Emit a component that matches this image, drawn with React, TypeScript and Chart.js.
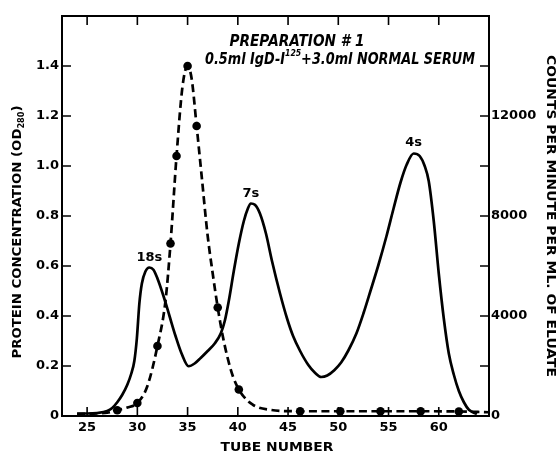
import React, { useEffect, useRef } from "react";
import { Chart, registerables } from "chart.js";

Chart.register(...registerables);

// ---------- data ----------
const proteinTubes = [24, 25, 26, 27, 27.5, 28, 28.5, 29, 29.4, 29.7, 29.95, 30.2, 30.45, 30.8, 31.2, 31.6, 32.0, 32.6, 33.2, 33.8, 34.4, 35.1, 35.7, 36.3, 37.0, 37.7, 38.3, 38.7, 39.1, 39.6, 40.1, 40.6, 41.0, 41.3, 41.7, 42.2, 42.8, 43.4, 44.2, 44.9, 45.5, 46.2, 47.0, 47.7, 48.3, 48.9, 49.6, 50.3, 51.0, 51.8, 52.5, 53.2, 54.0, 54.8, 55.5, 56.2, 56.8, 57.5, 58.1, 58.6, 59.0, 59.5, 60.0, 60.5, 61.0, 61.5, 62.0, 62.5, 63.0, 63.8];
const proteinOD = [0.01, 0.01, 0.012, 0.02, 0.032, 0.055, 0.085, 0.125, 0.17, 0.22, 0.31, 0.45, 0.53, 0.578, 0.594, 0.585, 0.55, 0.48, 0.4, 0.32, 0.25, 0.199, 0.21, 0.232, 0.26, 0.29, 0.33, 0.38, 0.46, 0.58, 0.69, 0.78, 0.83, 0.85, 0.845, 0.81, 0.73, 0.62, 0.49, 0.39, 0.32, 0.26, 0.205, 0.172, 0.156, 0.162, 0.183, 0.215, 0.262, 0.33, 0.41, 0.5, 0.605, 0.72, 0.83, 0.935, 1.005, 1.05, 1.04, 1.0, 0.94, 0.78, 0.57, 0.39, 0.25, 0.165, 0.1, 0.055, 0.025, 0.008];

const countTubes = [24, 26, 27, 28, 29, 30, 31, 32, 32.8, 33.3, 33.9, 34.5, 35, 35.4, 35.9, 36.4, 37, 37.5, 38, 38.5, 39, 39.5, 40.1, 41, 41.5, 42, 43, 44.5, 46.2, 50.2, 54.2, 58.2, 62, 65];
const countValues = [80, 100, 130, 230, 340, 520, 1200, 2800, 4600, 6900, 10400, 13200, 14000, 13500, 11600, 9600, 7200, 5700, 4340, 3200, 2300, 1600, 1060, 600, 450, 350, 260, 200, 190, 190, 190, 190, 180, 150];
const countMeasured = [false, false, false, true, false, true, false, true, false, true, true, false, true, false, true, false, false, false, true, false, false, false, true, false, false, false, false, false, true, true, true, true, true, false];

const xTickValues = [25, 30, 35, 40, 45, 50, 55, 60];
const leftTickValues = [0, 0.2, 0.4, 0.6, 0.8, 1.0, 1.2, 1.4];
const leftMinorTicks = [0, 0.2, 0.4, 0.6, 0.8, 1.0, 1.2, 1.4, 1.6];
const rightTickValues = [0, 4000, 8000, 12000];
const rightMinorTicks = [0, 2000, 4000, 6000, 8000, 10000, 12000, 14000, 16000];

const titleLine1 = "PREPARATION # 1";
const titleLine2a = "0.5ml IgD-I";
const titleLine2sup = "125";
const titleLine2b = "+3.0ml NORMAL SERUM";
const peakLabels = ["18s", "7s", "4s"];
const peakLabelTubes = [31.2, 41.3, 57.5];
const peakLabelOD = [0.635, 0.89, 1.095];
const leftTitleMain = "PROTEIN CONCENTRATION (OD";
const leftTitleSub = "280";
const leftTitleEnd = ")";
const rightTitle = "COUNTS PER MINUTE PER ML. OF ELUATE";
const xTitle = "TUBE NUMBER";

const FONT = "'DejaVu Sans', sans-serif";

type Part = { text: string; font: string; dy?: number };

function drawParts(ctx: CanvasRenderingContext2D, parts: Part[], cx: number, cy: number, width: number, angle: number) {
  ctx.save();
  let total = 0;
  const ws = parts.map((p) => {
    ctx.font = p.font;
    const w = ctx.measureText(p.text).width;
    total += w;
    return w;
  });
  ctx.translate(cx, cy);
  ctx.rotate(angle);
  ctx.scale(width / total, 1);
  ctx.fillStyle = "#000";
  ctx.textBaseline = "middle";
  ctx.textAlign = "left";
  let x = -total / 2;
  parts.forEach((p, i) => {
    ctx.font = p.font;
    ctx.fillText(p.text, x, p.dy || 0);
    x += ws[i];
  });
  ctx.restore();
}

const decorPlugin = {
  id: "decor",
  afterDraw(chart: any) {
    const ctx: CanvasRenderingContext2D = chart.ctx;
    const { left, right, top, bottom } = chart.chartArea;
    const xs = chart.scales.x;
    const ys = chart.scales.y;
    const y2 = chart.scales.y2;
    ctx.save();
    ctx.strokeStyle = "#000";
    ctx.lineWidth = 2;
    ctx.strokeRect(left, top, right - left, bottom - top);
    ctx.lineWidth = 1.6;
    const T = 9;
    ctx.beginPath();
    leftMinorTicks.forEach((v) => {
      const y = ys.getPixelForValue(v);
      ctx.moveTo(left, y);
      ctx.lineTo(left + T, y);
    });
    rightMinorTicks.forEach((v) => {
      const y = y2.getPixelForValue(v);
      ctx.moveTo(right, y);
      ctx.lineTo(right - T, y);
    });
    xTickValues.forEach((v) => {
      const x = xs.getPixelForValue(v);
      ctx.moveTo(x, top);
      ctx.lineTo(x, top + T);
      ctx.moveTo(x, bottom);
      ctx.lineTo(x, bottom - T);
    });
    ctx.stroke();
    ctx.restore();

    // annotation texts
    drawParts(ctx, [{ text: titleLine1, font: `italic bold 15px ${FONT}` }], 297, 42, 135, 0);
    drawParts(
      ctx,
      [
        { text: titleLine2a, font: `italic bold 15px ${FONT}` },
        { text: titleLine2sup, font: `italic bold 9px ${FONT}`, dy: -6 },
        { text: titleLine2b, font: `italic bold 15px ${FONT}` },
      ],
      340,
      60,
      270,
      0
    );
    peakLabels.forEach((t, i) => {
      ctx.save();
      ctx.font = `bold 13px ${FONT}`;
      ctx.fillStyle = "#000";
      ctx.textAlign = "center";
      ctx.textBaseline = "middle";
      ctx.fillText(t, xs.getPixelForValue(peakLabelTubes[i]), ys.getPixelForValue(peakLabelOD[i]));
      ctx.restore();
    });
    drawParts(
      ctx,
      [
        { text: leftTitleMain, font: `bold 13px ${FONT}` },
        { text: leftTitleSub, font: `bold 8px ${FONT}`, dy: 4 },
        { text: leftTitleEnd, font: `bold 13px ${FONT}` },
      ],
      18,
      232,
      253,
      -Math.PI / 2
    );
    drawParts(ctx, [{ text: rightTitle, font: `bold 13px ${FONT}` }], 550, 216, 322, Math.PI / 2);
    drawParts(ctx, [{ text: xTitle, font: `bold 13px ${FONT}` }], 277, 448, 113, 0);
  },
};

export default function App() {
  const ref = useRef<HTMLCanvasElement | null>(null);
  useEffect(() => {
    if (!ref.current) return;
    const tickFont = { family: FONT, size: 13, weight: "bold" as const };
    const chart = new Chart(ref.current, {
      type: "line",
      data: {
        datasets: [
          {
            label: "Protein",
            data: proteinTubes.map((t, i) => ({ x: t, y: proteinOD[i] })),
            yAxisID: "y",
            borderColor: "#000",
            borderWidth: 2.7,
            pointRadius: 0,
            cubicInterpolationMode: "monotone",
            fill: false,
          },
          {
            label: "Counts",
            data: countTubes.map((t, i) => ({ x: t, y: countValues[i] })),
            yAxisID: "y2",
            borderColor: "#000",
            borderWidth: 2.7,
            borderDash: [8, 4.5],
            pointRadius: countMeasured.map((m) => (m ? 4.3 : 0)),
            pointBackgroundColor: "#000",
            pointBorderWidth: 0,
            cubicInterpolationMode: "monotone",
            fill: false,
          },
        ],
      },
      options: {
        responsive: false,
        maintainAspectRatio: false,
        animation: false,
        devicePixelRatio: 1,
        layout: { padding: { top: 16, left: 0, right: 0, bottom: 0 } },
        plugins: { legend: { display: false }, tooltip: { enabled: false } },
        scales: {
          x: {
            type: "linear",
            min: 22.5,
            max: 65,
            grid: { display: false, drawTicks: false },
            border: { display: false },
            afterBuildTicks: (s: any) => {
              s.ticks = xTickValues.map((v) => ({ value: v }));
            },
            afterFit: (s: any) => {
              s.height = 39;
            },
            ticks: {
              padding: 4,
              color: "#000",
              font: tickFont,
              maxRotation: 0,
              autoSkip: false,
              callback: (v: any) => String(v),
            },
          },
          y: {
            type: "linear",
            position: "left",
            min: 0,
            max: 1.6,
            grid: { display: false, drawTicks: false },
            border: { display: false },
            afterBuildTicks: (s: any) => {
              s.ticks = leftTickValues.map((v) => ({ value: v }));
            },
            afterFit: (s: any) => {
              s.width = 62;
            },
            ticks: {
              padding: 3,
              color: "#000",
              font: tickFont,
              autoSkip: false,
              callback: (v: any) => (v === 0 ? "0" : Number(v).toFixed(1)),
            },
          },
          y2: {
            type: "linear",
            position: "right",
            min: 0,
            max: 16000,
            grid: { display: false, drawTicks: false },
            border: { display: false },
            afterBuildTicks: (s: any) => {
              s.ticks = rightTickValues.map((v) => ({ value: v }));
            },
            afterFit: (s: any) => {
              s.width = 69;
            },
            ticks: {
              padding: 2,
              color: "#000",
              font: tickFont,
              autoSkip: false,
              callback: (v: any) => String(v),
            },
          },
        },
      },
      plugins: [decorPlugin],
    } as any);
    return () => chart.destroy();
  }, []);
  return (
    <div style={{ position: "fixed", left: 0, top: 0, width: 558, height: 455, background: "#fff" }}>
      <canvas ref={ref} width={558} height={455} style={{ display: "block" }} />
    </div>
  );
}
